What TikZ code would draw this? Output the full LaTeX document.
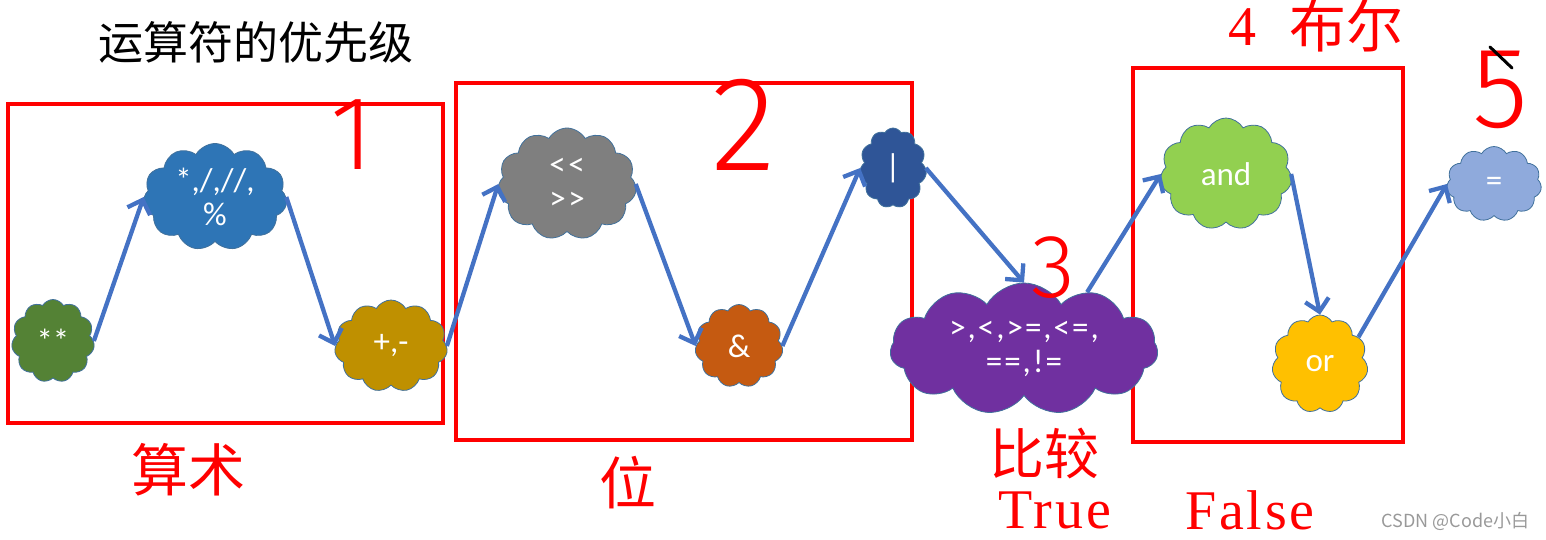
\documentclass[tikz,border=0pt]{standalone}
\usepackage{fontspec}
\usepackage{xcolor}
\usepackage{tikz}
\usetikzlibrary{arrows.meta,shapes.symbols}
\newfontfamily\cjk{Noto Sans CJK SC}
\newfontfamily\calib{Carlito}
\newfontfamily\simserif[LetterSpace=5]{Liberation Serif}
\newfontfamily\hand{Fira Sans Light}
\newcommand{\pxfont}[1]{\fontsize{#1}{34}\selectfont}
\definecolor{arrowblue}{HTML}{4472C4}
\definecolor{cloudline}{HTML}{41719C}

\begin{document}
\begin{tikzpicture}[x=1pt,y=-1pt,>={Straight Barb[length=12pt,width=24pt]},
op/.style={cloud,cloud puffs=11,cloud puff arc=120,cloud ignores aspect,draw=cloudline,line width=0.8pt,
  inner sep=0pt,text=white,align=center,font=\calib\pxfont{33}},
grp/.style={draw=red,line width=4pt},
tag/.style={text=red,font=\cjk\pxfont{57}},
latin/.style={text=red,inner sep=1pt,font=\simserif\pxfont{56}},
scrawl/.style={text=red,font=\hand\pxfont{105}},
flow/.style={->,draw=arrowblue,line width=4.3pt}]
\useasboundingbox (0,0) rectangle (1546,540);
\node[font=\cjk\pxfont{45}] (title) at (256,42) {运算符的优先级};
% groups
\draw[grp] (8,104) rectangle (443,423);
\draw[grp] (456,83) rectangle (912,440);
\draw[grp] (1133,68) rectangle (1403,442);
% operators
\node[op,fill={rgb,255:red,84;green,130;blue,53},minimum width=83pt,minimum height=83pt] (pow) at (53,341) {**};
\node[op,fill={rgb,255:red,46;green,117;blue,182},minimum width=144pt,minimum height=107pt] (muldiv) at (215,197) {*,/,//,\\\%};
\node[op,fill={rgb,255:red,191;green,144;blue,0},minimum width=113pt,minimum height=92pt] (addsub) at (391,346) {+,-};
\node[op,fill={rgb,255:red,127;green,127;blue,127},minimum width=139pt,minimum height=112pt,
  font=\calib\pxfont{33}\addfontfeature{LetterSpace=8}] (shift) at (567,184) {<<\\>>};
\node[op,fill={rgb,255:red,197;green,90;blue,17},minimum width=88pt,minimum height=83pt] (bitand) at (739,346) {\&};
\node[op,fill={rgb,255:red,47;green,85;blue,151},minimum width=67pt,minimum height=80pt] (bitor) at (893,168) {|};
\node[op,fill={rgb,255:red,112;green,48;blue,160},minimum width=268pt,minimum height=132pt,
  font=\calib\pxfont{33}\addfontfeature{LetterSpace=6}] (cmp) at (1024,349) {>,<,>=,<=,\\==,!=};
\node[op,fill={rgb,255:red,146;green,208;blue,80},minimum width=132pt,minimum height=112pt] (logand) at (1226,174) {and};
\node[op,fill={rgb,255:red,255;green,192;blue,0},minimum width=96pt,minimum height=98pt] (logor) at (1320,364) {or};
\node[op,fill={rgb,255:red,143;green,170;blue,220},minimum width=95pt,minimum height=75pt] (assign) at (1494,184) {=};
\draw[flow] (pow.east) -- (muldiv.west);
\draw[flow] (muldiv.east) -- (addsub.west);
\draw[flow] (addsub.east) -- (shift.west);
\draw[flow] (shift.east) -- (bitand.west);
\draw[flow] (bitand.east) -- (bitor.west);
\draw[flow] (bitor.east) -- (cmp.north);
\draw[flow] (cmp.42) -- (logand.west);
\draw[flow] (logand.east) -- (logor.north);
\draw[flow] (logor.35) -- (assign.west);
% labels
\node[tag] (arith) at (188,470) {算术};
\node[tag] (bits) at (628,483) {位};
\node[tag,font=\cjk\pxfont{55}] (compare) at (1044,453) {比较};
\node[latin] (four) at (1242,27) {4};
\node[tag] (boolean) at (1346,26) {布尔};
\node[latin] (truelbl) at (1055,510) {True};
\node[latin] (falselbl) at (1250,510) {False};
% handwritten numbers
\node[scrawl] (one) at (352,135) {1};
\node[scrawl,font=\hand\pxfont{135}] (two) at (744,125) {2};
\node[scrawl,font=\hand\pxfont{90}] (three) at (1053,268) {3};
\node[scrawl,font=\hand\pxfont{115}] (five) at (1500,90) {5};
\draw[line width=3pt,line cap=round] (1490,47) -- (1512,68);
\node[text=black!40,font=\cjk\pxfont{18},anchor=east] (mark) at (1533,521) {CSDN @Code小白};
\end{tikzpicture}
\end{document}
